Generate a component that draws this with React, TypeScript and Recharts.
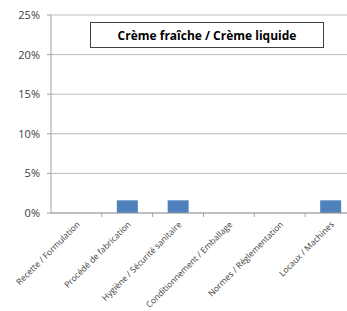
import React from 'react'
import { BarChart, Bar, XAxis, YAxis, CartesianGrid } from 'recharts'

const categories = [
  'Recette / Formulation',
  'Procédé de fabrication',
  'Hygiène / Sécurité sanitaire',
  'Conditionnement / Emballage',
  'Normes / Réglementation',
  'Locaux / Machines',
]
const values = [0, 1.6, 1.6, 0, 0, 1.6]
const yTicks = [0, 5, 10, 15, 20, 25]
const title = 'Crème fraîche / Crème liquide'

const data = categories.map((name, i) => ({ name, value: values[i] }))

const FONT = "'Open Sans', 'Liberation Sans', sans-serif"

const CatTick = (props: any) => {
  const { x, y, payload } = props
  const off = payload.offset || 0
  const tx = x + 4
  const ty = y + 4
  return (
    <g>
      <line x1={x + off} y1={y - 8} x2={x + off} y2={y - 4} stroke="#a0a0a0" />
      <text
        x={tx}
        y={ty}
        transform={`rotate(-45 ${tx} ${ty})`}
        textAnchor="end"
        fontSize={8.5}
        fill="#404040"
        fontFamily={FONT}
      >
        {payload.value}
      </text>
    </g>
  )
}

export default function App() {
  return (
    <div
      style={{
        position: 'absolute',
        left: 0,
        top: 0,
        width: 347,
        height: 311,
        overflow: 'hidden',
        background: '#fff',
      }}
    >
      <BarChart
        width={360}
        height={311}
        data={data}
        margin={{ top: 15, right: 4, left: 0, bottom: 0 }}
      >
        <CartesianGrid vertical={false} stroke="#bdbdbd" />
        <XAxis
          dataKey="name"
          interval={0}
          height={98}
          tickLine={false}
          axisLine={{ stroke: '#a0a0a0' }}
          tick={<CatTick />}
        />
        <YAxis
          width={51}
          domain={[0, 25]}
          ticks={yTicks}
          tickFormatter={(v: number) => `${v}%`}
          axisLine={{ stroke: '#a0a0a0' }}
          tickLine={{ stroke: '#a0a0a0' }}
          tickSize={4}
          tickMargin={7}
          tick={{ fontSize: 11, fill: '#404040', fontFamily: FONT }}
        />
        <Bar dataKey="value" fill="#4f81bd" barSize={21} isAnimationActive={false} />
      </BarChart>
      <div
        style={{
          position: 'absolute',
          left: 90,
          top: 22,
          width: 234,
          height: 26,
          border: '1px solid #404040',
          boxSizing: 'border-box',
          background: '#fff',
          display: 'flex',
          alignItems: 'center',
          justifyContent: 'center',
          fontFamily: FONT,
          fontWeight: 700,
          fontSize: 12,
          color: '#000',
        }}
      >
        {title}
      </div>
    </div>
  )
}
